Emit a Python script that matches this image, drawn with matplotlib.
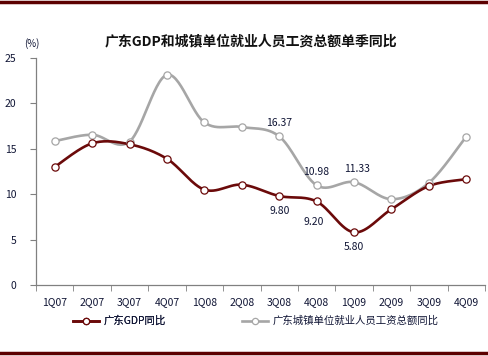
import numpy as np
import matplotlib
matplotlib.use("Agg")
import matplotlib.pyplot as plt
from matplotlib.lines import Line2D

plt.rcParams['font.family'] = ['Noto Sans CJK SC', 'DejaVu Sans']

categories = ['1Q07', '2Q07', '3Q07', '4Q07', '1Q08', '2Q08', '3Q08', '4Q08',
              '1Q09', '2Q09', '3Q09', '4Q09']
gdp = [13.0, 15.6, 15.5, 13.9, 10.5, 11.05, 9.80, 9.20, 5.80, 8.35, 10.9, 11.65]
wage = [15.85, 16.55, 15.8, 23.15, 17.9, 17.4, 16.37, 10.98, 11.33, 9.45, 11.25, 16.35]
yticks = [0, 5, 10, 15, 20, 25]
title = '广东GDP和城镇单位就业人员工资总额单季同比'
name_gdp = '广东GDP同比'
name_wage = '广东城镇单位就业人员工资总额同比'

RED = '#6b0a0a'
GRAY = '#a6a6a6'
TXT = '#101535'


def smooth(xs, ys, n=30):
    xs = np.asarray(xs, float)
    ys = np.asarray(ys, float)
    P = np.column_stack([xs, ys])
    out = []
    for i in range(len(P) - 1):
        p0 = P[i - 1] if i > 0 else P[i]
        p1 = P[i]
        p2 = P[i + 1]
        p3 = P[i + 2] if i + 2 < len(P) else P[i + 1]
        c1 = p1 + (p2 - p0) / 6.0
        c2 = p2 - (p3 - p1) / 6.0
        t = np.linspace(0, 1, n)[:, None]
        seg = ((1 - t) ** 3) * p1 + 3 * ((1 - t) ** 2) * t * c1 + 3 * (1 - t) * t ** 2 * c2 + t ** 3 * p2
        out.append(seg if i == 0 else seg[1:])
    s = np.vstack(out)
    return s[:, 0], s[:, 1]


fig = plt.figure(figsize=(4.88, 3.56), dpi=100)
ax = fig.add_axes([36 / 488, 1 - 285 / 356, (485 - 36) / 488, (285 - 58) / 356])

x = np.arange(len(categories))
for ys, col in [(wage, GRAY), (gdp, RED)]:
    sx, sy = smooth(x, ys)
    ax.plot(sx, sy, color=col, lw=1.9, solid_capstyle='round', zorder=2)
    ax.plot(x, ys, ls='none', marker='o', ms=5.2, mfc='white', mec=col, mew=0.9, zorder=3)

ax.set_xlim(-0.5, len(categories) - 0.5)
ax.set_ylim(0, 25)
ax.set_yticks(yticks)
ax.set_yticklabels([str(v) for v in yticks], fontsize=7.5, color=TXT)
ax.set_xticks(x)
ax.set_xticklabels(categories, fontsize=7.5, color=TXT)
ax.tick_params(axis='x', length=0, pad=9)
ax.set_xticks(np.arange(len(categories) + 1) - 0.5, minor=True)
ax.tick_params(axis='x', which='minor', length=4, color='#808080', direction='out')
ax.tick_params(axis='y', length=4, color='#808080', direction='out', pad=10)
for s in ['top', 'right']:
    ax.spines[s].set_visible(False)
for s in ['left', 'bottom']:
    ax.spines[s].set_color('#808080')
    ax.spines[s].set_linewidth(0.9)

# data labels
lab_kw = dict(fontsize=7.5, color=TXT, ha='center')
ax.annotate(f'{wage[6]:.2f}', (x[6], wage[6]), xytext=(0, 6), textcoords='offset points', va='bottom', **lab_kw)
ax.annotate(f'{wage[7]:.2f}', (x[7], wage[7]), xytext=(0, 6), textcoords='offset points', va='bottom', **lab_kw)
ax.annotate(f'{wage[8]:.2f}', (x[8], wage[8]), xytext=(2, 6), textcoords='offset points', va='bottom', **lab_kw)
ax.annotate(f'{gdp[6]:.2f}', (x[6], gdp[6]), xytext=(0, -7), textcoords='offset points', va='top', **lab_kw)
ax.annotate(f'{gdp[7]:.2f}', (x[7], gdp[7]), xytext=(-2, -11), textcoords='offset points', va='top', **lab_kw)
ax.annotate(f'{gdp[8]:.2f}', (x[8], gdp[8]), xytext=(0, -7), textcoords='offset points', va='top', **lab_kw)

fig.text(32 / 488, 1 - 44 / 356, '(%)', fontsize=7, color=TXT, ha='center', va='center')
fig.text(251 / 488, 1 - 41 / 356, title, fontsize=10, fontweight='bold', color='#111111', ha='center', va='center')

# legends (two entries positioned separately)
h_gdp = Line2D([], [], color=RED, lw=1.9, marker='o', ms=4.5, mfc='white', mec=RED, mew=0.9)
h_wage = Line2D([], [], color=GRAY, lw=1.9, marker='o', ms=4.5, mfc='white', mec=GRAY, mew=0.9)
leg_kw = dict(loc='center left', frameon=False, fontsize=7.5, handlelength=2.5, handletextpad=0.4,
              borderpad=0, borderaxespad=0)
leg1 = fig.legend([h_gdp], [name_gdp], bbox_to_anchor=(73 / 488, 1 - 321 / 356), **leg_kw)
leg2 = fig.legend([h_wage], [name_wage], bbox_to_anchor=(242 / 488, 1 - 321 / 356), **leg_kw)
fig.add_artist(leg1)
for lg in (leg1, leg2):
    for t in lg.get_texts():
        t.set_color(TXT)

# top and bottom dark red bars
fig.add_artist(Line2D([0, 1], [1 - 2 / 356, 1 - 2 / 356], color='#5c0000', lw=2.5, transform=fig.transFigure))
fig.add_artist(Line2D([0, 1], [1 - 353 / 356, 1 - 353 / 356], color='#5c0000', lw=2.5, transform=fig.transFigure))

fig.savefig('out.png', dpi=100)
